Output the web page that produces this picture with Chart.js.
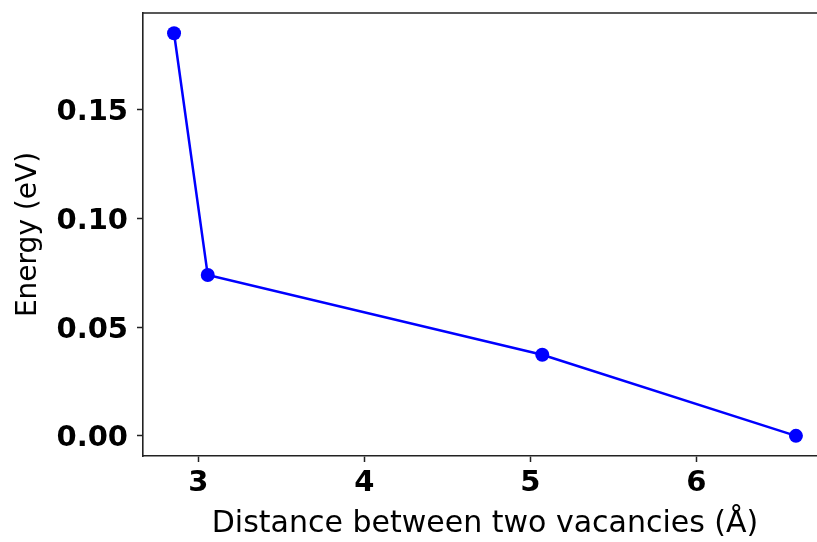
<!DOCTYPE html>
<html>
<head>
<meta charset="utf-8">
<script src="https://cdn.jsdelivr.net/npm/chart.js@4.4.1/dist/chart.umd.min.js"></script>
<style>
  html, body { margin: 0; padding: 0; background: #fff; overflow: hidden; }
  #wrap { width: 840px; height: 542px; }
</style>
</head>
<body>
<div id="wrap"><canvas id="c" width="840" height="542"></canvas></div>
<script>
// Vacancy–vacancy separation (Å) and relative energy (eV)
const distances = [2.854, 3.057, 5.072, 6.600];
const energies  = [0.1853, 0.0740, 0.0373, 0.0];

const xTicks = [3, 4, 5, 6];
const yTicks = [0.00, 0.05, 0.10, 0.15];

const xLabel = 'Distance between two vacancies (Å)';
const yLabel = 'Energy (eV)';

const points = distances.map((d, i) => ({ x: d, y: energies[i] }));

// top / right spines of the axes box
const frame = {
  id: 'frame',
  afterDraw(chart) {
    const { ctx, chartArea: a } = chart;
    ctx.save();
    ctx.strokeStyle = '#222';
    ctx.lineWidth = 1.6;
    ctx.beginPath();
    ctx.moveTo(a.left, a.top);
    ctx.lineTo(a.right, a.top);
    ctx.lineTo(a.right, a.bottom);
    ctx.stroke();
    ctx.restore();
  }
};

// keep the axes box exactly where the layout padding puts it
function noEdgePadding(s) {
  s.paddingTop = 0; s.paddingBottom = 0;
  s.paddingLeft = 0; s.paddingRight = 0;
}

const tickFont = { family: 'DejaVu Sans', size: 29, weight: 'bold' };

new Chart(document.getElementById('c'), {
  type: 'scatter',
  data: {
    datasets: [{
      data: points,
      showLine: true,
      borderColor: '#0000ff',
      backgroundColor: '#0000ff',
      borderWidth: 2.5,
      pointRadius: 7,
      pointHoverRadius: 7,
      pointBorderWidth: 0
    }]
  },
  options: {
    responsive: false,
    animation: false,
    devicePixelRatio: 1,
    layout: { padding: { top: 13, right: 13, left: 0, bottom: 0 } },
    plugins: { legend: { display: false }, tooltip: { enabled: false } },
    scales: {
      x: {
        type: 'linear',
        min: 2.667,
        max: 6.787,
        afterFit(s) { s.height = 86; noEdgePadding(s); },
        afterBuildTicks(s) { s.ticks = xTicks.map(v => ({ value: v })); },
        grid: { display: true, drawOnChartArea: false, drawTicks: true, tickLength: 6, tickColor: '#222', tickWidth: 1.5 },
        border: { display: true, color: '#222', width: 1.6 },
        ticks: { color: '#000', font: tickFont, padding: 4, maxRotation: 0, callback: v => String(v) },
        title: { display: true, text: xLabel, color: '#000', font: { family: 'DejaVu Sans', size: 30 }, padding: { top: 0, bottom: 0 } }
      },
      y: {
        type: 'linear',
        min: -0.00927,
        max: 0.1946,
        afterFit(s) { s.width = 143; noEdgePadding(s); },
        afterBuildTicks(s) { s.ticks = yTicks.map(v => ({ value: v })); },
        grid: { display: true, drawOnChartArea: false, drawTicks: true, tickLength: 6, tickColor: '#222', tickWidth: 1.5 },
        border: { display: true, color: '#222', width: 1.6 },
        ticks: { color: '#000', font: tickFont, padding: 9, labelOffset: 3, callback: v => v.toFixed(2) },
        title: { display: true, text: yLabel, color: '#000', font: { family: 'DejaVu Sans', size: 28 }, padding: { top: 12, bottom: 0 } }
      }
    }
  },
  plugins: [frame]
});
</script>
</body>
</html>
